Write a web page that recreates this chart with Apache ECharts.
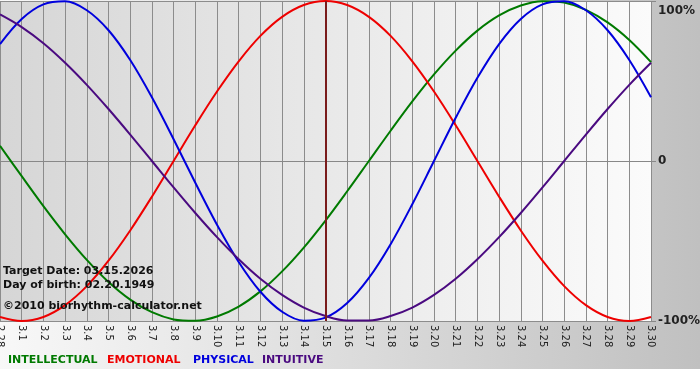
<!DOCTYPE html>
<html><head><meta charset="utf-8">
<script src="https://cdn.jsdelivr.net/npm/echarts@6/dist/echarts.min.js"></script>
<style>html,body{margin:0;padding:0;background:#fff}#c{width:700px;height:380px}</style>
</head><body><div id="c"></div>
<script>
const categories = ['2.28','3.1','3.2','3.3','3.4','3.5','3.6','3.7','3.8','3.9','3.10','3.11','3.12','3.13','3.14','3.15','3.16','3.17','3.18','3.19','3.20','3.21','3.22','3.23','3.24','3.25','3.26','3.27','3.28','3.29','3.30'];
const intellectual = [0.095,-0.095,-0.282,-0.458,-0.618,-0.756,-0.866,-0.945,-0.990,-0.999,-0.972,-0.910,-0.815,-0.690,-0.541,-0.372,-0.189,0,0.189,0.372,0.541,0.690,0.815,0.910,0.972,0.999,0.990,0.945,0.866,0.756,0.618];
const emotional = [-0.975,-1,-0.975,-0.901,-0.782,-0.623,-0.434,-0.223,0,0.223,0.434,0.623,0.782,0.901,0.975,1,0.975,0.901,0.782,0.623,0.434,0.223,0,-0.223,-0.434,-0.623,-0.782,-0.901,-0.975,-1,-0.975];
const physical = [0.731,0.888,0.979,0.998,0.942,0.817,0.631,0.398,0.136,-0.136,-0.398,-0.631,-0.817,-0.942,-0.998,-0.979,-0.888,-0.731,-0.520,-0.270,0,0.270,0.520,0.731,0.888,0.979,0.998,0.942,0.817,0.631,0.398];
const intuitive = [0.916,0.837,0.736,0.614,0.476,0.325,0.165,0,-0.165,-0.325,-0.476,-0.614,-0.736,-0.837,-0.916,-0.969,-0.997,-0.997,-0.969,-0.916,-0.837,-0.736,-0.614,-0.476,-0.325,-0.165,0,0.165,0.325,0.476,0.614];
const yTickLabels = {'-1':'-100%','0':'0','1':'100%'};
const targetDay = '3.15';
const infoLines = ['Target Date: 03.15.2026','Day of birth: 02.20.1949','\u00a92010 biorhythm-calculator.net'];
const legendNames = ['INTELLECTUAL','EMOTIONAL','PHYSICAL','INTUITIVE'];
const colors = ['#007a00','#ee0000','#0000dd','#4a0a80'];

const font = '"DejaVu Sans", Verdana, sans-serif';
const chart = echarts.init(document.getElementById('c'), null, {renderer:'canvas'});
const seriesData = [intellectual, emotional, physical, intuitive];
const legendX = [8, 107, 193, 262];
const option = {
  animation: false,
  backgroundColor: 'transparent',
  grid: {left: 0, right: 49, top: 1, bottom: 59, show: true, outerBoundsMode: 'none', containLabel: false,
    backgroundColor: {type:'linear', x:0, y:0, x2:1, y2:0, colorStops:[{offset:0,color:'#d6d6d6'},{offset:1,color:'#fbfbfb'}]},
    borderWidth: 0},
  xAxis: {type:'category', data: categories, boundaryGap: false,
    axisLine: {show:true, lineStyle:{color:'#888', width:1}},
    axisTick: {show:true, length:4, lineStyle:{color:'#888'}},
    axisLabel: {interval:0, rotate:-90, fontSize:10, fontFamily:font, color:'#222', margin:4},
    splitLine: {show:true, lineStyle:{color:'#8c8c8c', width:1}}},
  yAxis: {type:'value', min:-1, max:1, interval:1, position:'right',
    axisLine: {show:false},
    axisTick: {show:true, length:5, lineStyle:{color:'#888'}},
    axisLabel: {formatter: v => yTickLabels[String(v)], verticalAlignMaxLabel:'top', padding:[4,0,0,0], fontSize:12, fontWeight:'bold', fontFamily:font, color:'#222', margin:7},
    splitLine: {show:true, lineStyle:{color:'#8c8c8c', width:1}}},
  series: seriesData.map((d,i) => ({
    type:'line', name: legendNames[i], data: d, smooth: 0.35, showSymbol:false,
    lineStyle:{color: colors[i], width:2}, z: 3,
    markLine: i === 1 ? {symbol:'none', silent:true, label:{show:false},
      lineStyle:{color:'#7a1c1c', width:2, type:'solid'}, data:[{xAxis: targetDay}]} : undefined
  })),
  graphic: [
    {type:'rect', z:-10, silent:true, shape:{x:0,y:0,width:700,height:369},
      style:{fill:{type:'linear', x:0, y:0, x2:1, y2:0, colorStops:[{offset:0,color:'#f8f8f8'},{offset:1,color:'#c0c0c0'}]}}},
    ...infoLines.map((t,i) => ({type:'text', left:3, top:[266,280,301][i], z:10,
      style:{text:t, font:'bold 11px ' + font, fill:'#111'}})),
    ...legendNames.map((t,i) => ({type:'text', left:legendX[i], top:355, z:10,
      style:{text:t, font:'bold 11px ' + font, fill:colors[i]}}))
  ]
};
chart.setOption(option);
</script></body></html>
